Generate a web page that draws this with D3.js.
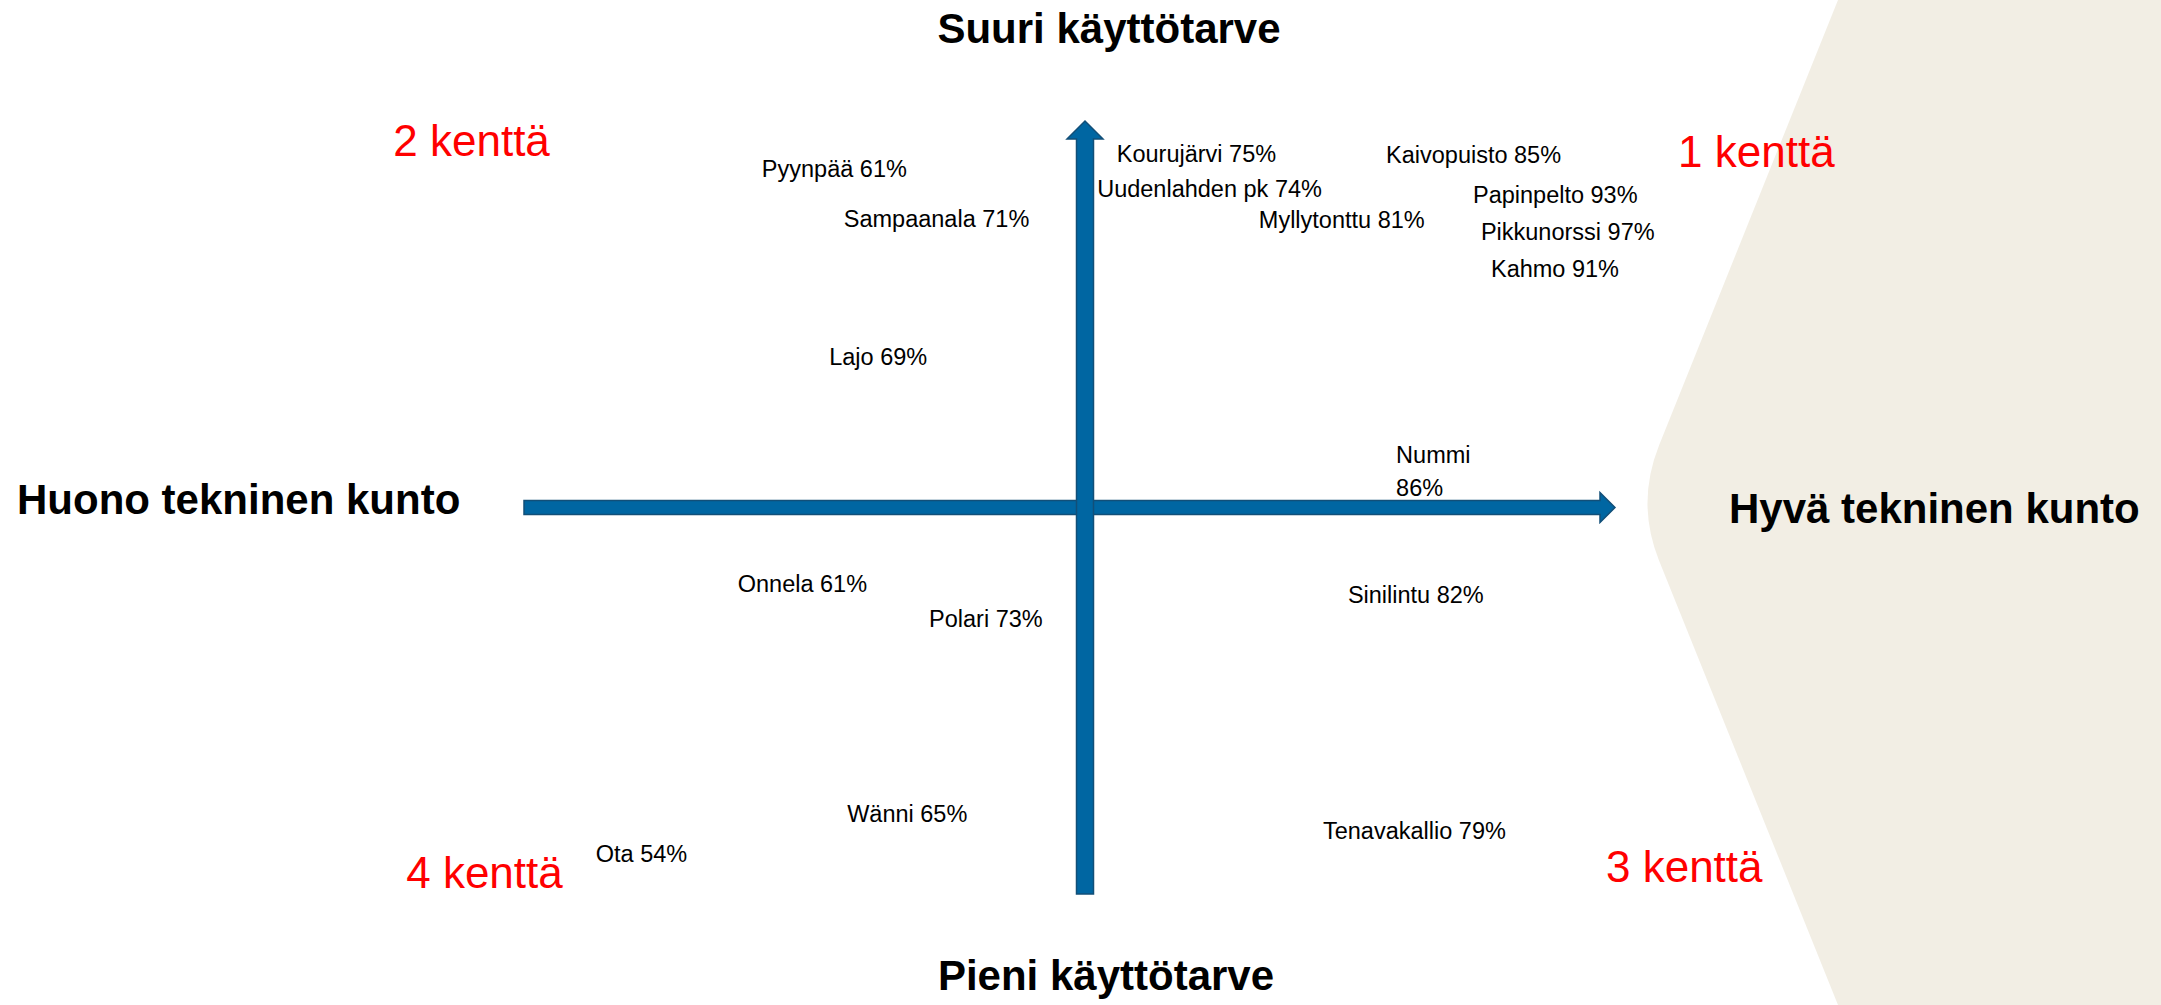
<!DOCTYPE html>
<html lang="fi">
<head>
<meta charset="utf-8">
<title>Kentät: kunto ja käyttötarve</title>
<script src="https://cdn.jsdelivr.net/npm/d3@7"></script>
<style>
  html, body { margin: 0; padding: 0; background: #ffffff; }
  svg { display: block; }
  .label { font-family: "Liberation Sans", Arial, sans-serif; font-size: 23.5px; fill: #000; }
  .title { font-family: "Liberation Sans", Arial, sans-serif; font-size: 42px; font-weight: bold; fill: #000; }
  .field { font-family: "Liberation Sans", Arial, sans-serif; font-size: 44px; fill: #ff0000; }
</style>
</head>
<body>
<div class="chart"></div>
<script>
// kentät: nimi, kuntoprosentti, sijainti nelikentässä (x = tekninen kunto, y = käyttötarve, -100..100)
var names   = ["Kourujärvi", "Uudenlahden pk", "Kaivopuisto", "Papinpelto", "Myllytonttu", "Pikkunorssi", "Kahmo",
               "Pyynpää", "Sampaanala", "Lajo", "Nummi", "Onnela", "Polari", "Wänni", "Ota", "Sinilintu", "Tenavakallio"];
var percent = [75, 74, 85, 93, 81, 97, 91, 61, 71, 69, 86, 61, 73, 65, 54, 82, 79];
var posX    = [6, 2.3, 56.8, 73.2, 32.8, 74.7, 76.6, -57.6, -43, -45.6, 58.7, -61.9, -27.8, -42.4, -87.2, 49.6, 44.9];
var posY    = [89.4, 80.4, 89.1, 78.8, 72.4, 69.3, 59.7, 85.5, 72.6, 37, 11.6, -21.8, -30.8, -81.3, -91.7, -24.6, -85.8];

// nelikenttien numerot
var fieldLabels = ["1 kenttä", "2 kenttä", "3 kenttä", "4 kenttä"];
var fieldX = [111.9, -123.3, 98.3, -121];
var fieldY = [88.1, 91, -96.9, -98.4];

var w = 2161, h = 1005;

var svg = d3.select("div.chart").append("svg")
  .attr("width", w)
  .attr("height", h);

// akselit: vasen-keski-oikea ja ala-keski-ylä
var x = d3.scaleLinear().domain([-100, 0, 100]).range([524, 1085, 1615]);
var y = d3.scaleLinear().domain([-100, 0, 100]).range([894, 508, 121]);

// beige nuolikuvio oikealla
svg.append("path")
  .attr("d", "M1838,0 L1659,445.5 Q1636,503 1659,560.5 L1838," + h + " L" + w + "," + h + " L" + w + ",0 Z")
  .attr("fill", "#f2eee4");

// vaaka-akselin nuoli
var hx0 = x(-100), hx1 = x(100), hy = y(0) - 0.5;
var hArrow = d3.path();
hArrow.moveTo(hx0, hy - 7);
hArrow.lineTo(hx1 - 15, hy - 7);
hArrow.lineTo(hx1 - 15, hy - 15);
hArrow.lineTo(hx1, hy);
hArrow.lineTo(hx1 - 15, hy + 15);
hArrow.lineTo(hx1 - 15, hy + 7);
hArrow.lineTo(hx0, hy + 7);
hArrow.closePath();

svg.append("path")
  .attr("d", hArrow.toString())
  .attr("fill", "#0066a2")
  .attr("stroke", "#124f78")
  .attr("stroke-width", 1.5);

// pystyakselin nuoli
var vx = x(0), vy0 = y(-100), vy1 = y(100);
var vArrow = d3.path();
vArrow.moveTo(vx - 8.5, vy0);
vArrow.lineTo(vx - 8.5, vy1 + 18);
vArrow.lineTo(vx - 18, vy1 + 18);
vArrow.lineTo(vx, vy1);
vArrow.lineTo(vx + 18, vy1 + 18);
vArrow.lineTo(vx + 8.5, vy1 + 18);
vArrow.lineTo(vx + 8.5, vy0);
vArrow.closePath();

svg.append("path")
  .attr("d", vArrow.toString())
  .attr("fill", "#0066a2")
  .attr("stroke", "#124f78")
  .attr("stroke-width", 1.5);

// akselien otsikot
svg.append("text").attr("class", "title")
  .attr("x", 1109).attr("y", 43).attr("text-anchor", "middle")
  .text("Suuri käyttötarve");
svg.append("text").attr("class", "title")
  .attr("x", 1106).attr("y", 990).attr("text-anchor", "middle")
  .text("Pieni käyttötarve");
svg.append("text").attr("class", "title")
  .attr("x", 17).attr("y", 514)
  .text("Huono tekninen kunto");
svg.append("text").attr("class", "title")
  .attr("x", 1729).attr("y", 523)
  .text("Hyvä tekninen kunto");

// nelikenttien numerot
svg.selectAll("text.field")
  .data(fieldLabels)
  .enter()
  .append("text")
  .attr("class", "field")
  .attr("x", (d, i) => x(fieldX[i]))
  .attr("y", (d, i) => y(fieldY[i]))
  .text(d => d);

// kenttien nimet
var labels = svg.selectAll("text.label")
  .data(names)
  .enter()
  .append("text")
  .attr("class", "label")
  .attr("x", (d, i) => x(posX[i]))
  .attr("y", (d, i) => y(posY[i]));

labels.each(function(d, i) {
  var t = d3.select(this);
  if (d === "Nummi") {
    // Nummi on kahdella rivillä
    t.append("tspan").attr("x", x(posX[i])).text(d);
    t.append("tspan").attr("x", x(posX[i])).attr("dy", 33).text(percent[i] + "%");
  } else {
    t.text(d + " " + percent[i] + "%");
  }
});
</script>
</body>
</html>
